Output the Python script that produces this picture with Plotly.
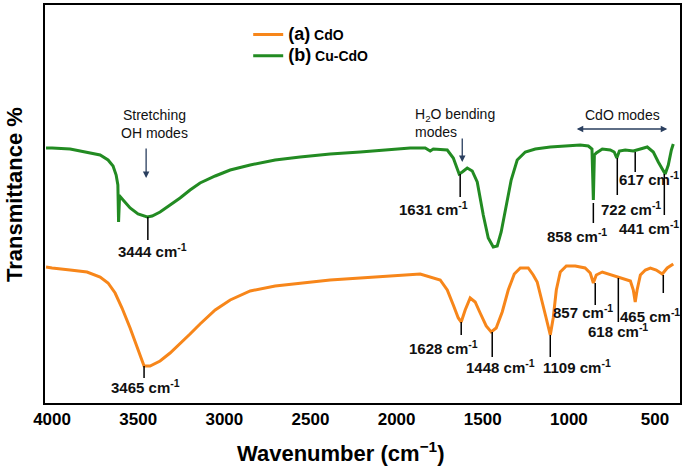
import plotly.graph_objects as go

# Cu-CdO (b) – wavenumber (cm-1) and transmittance (a.u.)
wn_cucdo = [4035, 4000, 3895, 3797, 3721, 3675, 3646, 3628, 3618, 3614, 3609, 3603, 3576, 3547,
            3501, 3448, 3419, 3373, 3315, 3257, 3199, 3141, 3053, 2966, 2850, 2705, 2560, 2386,
            2211, 2037, 1921, 1834, 1805, 1787, 1706, 1671, 1637, 1619, 1590, 1561, 1532, 1497,
            1468, 1439, 1416, 1393, 1364, 1335, 1300, 1253, 1195, 1108, 1021, 934, 887, 866,
            858, 852, 841, 806, 760, 737, 722, 707, 673, 626, 585, 545, 510, 481, 441, 423, 405, 394]
t_cucdo = [255, 255, 254, 251, 248, 243, 237, 228, 218, 181, 203, 206, 201, 195,
           189, 186, 187, 191, 198, 205, 213, 220, 227, 233, 238, 243, 246, 249,
           251, 253, 255, 255, 252, 254, 253, 245, 229, 231, 235, 232, 221, 188,
           165, 156, 157, 171, 198, 223, 243, 251, 254, 256, 257, 258, 257, 254,
           203, 248, 250, 254, 253, 251, 245, 252, 253, 252, 254, 256, 251, 241, 229, 238, 253, 259]

# CdO (a)
wn_cdo = [4035, 4000, 3895, 3797, 3721, 3675, 3634, 3594, 3547, 3506, 3466, 3431, 3373, 3315,
          3257, 3199, 3141, 3053, 2966, 2850, 2705, 2560, 2386, 2211, 2037, 1863, 1747, 1706,
          1671, 1642, 1625, 1602, 1573, 1544, 1515, 1480, 1451, 1422, 1387, 1352, 1317, 1282,
          1236, 1207, 1184, 1161, 1132, 1108, 1091, 1073, 1050, 1015, 963, 906, 876, 858,
          841, 806, 748, 690, 643, 626, 615, 604, 585, 556, 527, 493, 458, 429, 394]
t_cdo = [136, 135, 133, 131, 126, 120, 110, 95, 75, 55, 37, 37, 42, 50,
         59, 69, 79, 93, 103, 112, 117, 120, 123, 125, 127, 129, 123, 113,
         98, 85, 81, 93, 105, 101, 90, 77, 71, 75, 91, 113, 129, 135,
         135, 128, 121, 106, 85, 68, 85, 113, 131, 137, 137, 135, 130, 120,
         128, 131, 128, 125, 122, 113, 101, 113, 128, 133, 135, 133, 129, 135, 139]

x_ticks = [4000, 3500, 3000, 2500, 2000, 1500, 1000, 500]

# peak labels: (label, line x, line y0, line y1, text x, text y)
peaks = [
    ("3444", 3444, 186, 163, 3419, 153),
    ("1631", 1631, 229, 206, 1788, 195),
    ("858", 858, 200, 180, 951, 168),
    ("722", 719, 245, 208, 640, 195),
    ("617", 615, 251, 231, 535, 225),
    ("441", 446, 229, 188, 535, 176),
    ("3465", 3466, 37, 25, 3460, 17),
    ("1628", 1625, 81, 68, 1730, 56),
    ("1448", 1445, 71, 46, 1398, 37),
    ("1109", 1108, 68, 46, 951, 37),
    ("857", 847, 120, 98, 917, 92),
    ("618", 713, 125, 81, 713, 73),
    ("465", 452, 128, 110, 527, 88),
]

ORANGE = "#F7861A"
GREEN = "#228B22"
FONT = "Arial, Liberation Sans, sans-serif"

fig = go.Figure()
fig.add_trace(go.Scatter(x=wn_cdo, y=t_cdo, mode="lines", line=dict(color=ORANGE, width=3),
                         name="<b><span style='font-size:18px'>(a)</span> CdO</b>"))
fig.add_trace(go.Scatter(x=wn_cucdo, y=t_cucdo, mode="lines", line=dict(color=GREEN, width=3),
                         name="<b><span style='font-size:18px'>(b)</span> Cu-CdO</b>"))

for lab, lx, y0, y1, tx, ty in peaks:
    fig.add_shape(type="line", x0=lx, x1=lx, y0=y0, y1=y1, line=dict(color="black", width=1.5))
    fig.add_annotation(x=tx, y=ty, text=f"<b>{lab} cm<sup>-1</sup></b>", showarrow=False,
                       font=dict(size=15, color="#111"))

# mode labels and arrows
fig.add_annotation(x=3408, y=279, text="Stretching<br>OH modes", showarrow=False,
                   font=dict(size=14, color="#111"))
fig.add_annotation(x=3454, y=225, ax=3454, ay=256, axref="x", ayref="y", text="",
                   showarrow=True, arrowhead=2, arrowwidth=1.3, arrowsize=1)
fig.add_annotation(x=1904, y=280, text="H<sub>2</sub>O bending<br>modes", showarrow=False,
                   xanchor="left", align="left", font=dict(size=14, color="#111"))
fig.add_annotation(x=1619, y=241, ax=1619, ay=266, axref="x", ayref="y", text="",
                   showarrow=True, arrowhead=2, arrowwidth=1.3, arrowsize=1)
fig.add_annotation(x=690, y=288, text="CdO modes", showarrow=False, font=dict(size=14, color="#111"))
fig.add_annotation(x=429, y=274, ax=963, ay=274, axref="x", ayref="y", text="",
                   showarrow=True, arrowhead=2, startarrowhead=2, arrowside="end+start",
                   arrowwidth=1.3, arrowsize=1)

# axis titles
fig.add_annotation(x=0.465, y=-0.123, xref="paper", yref="paper", showarrow=False,
                   xanchor="center", yanchor="middle",
                   text="<b>Wavenumber (cm<sup>−1</sup>)</b>", font=dict(size=22))
fig.add_annotation(x=-0.047, y=0.523, xref="paper", yref="paper", showarrow=False, textangle=-90,
                   xanchor="center", yanchor="middle",
                   text="<b>Transmittance %</b>", font=dict(size=22))

fig.update_layout(
    width=685, height=471,
    margin=dict(l=45, r=5, t=5, b=68),
    plot_bgcolor="white", paper_bgcolor="white",
    font=dict(family=FONT, color="black"),
    legend=dict(x=0.32, y=0.965, xanchor="left", yanchor="top", bgcolor="rgba(0,0,0,0)",
                font=dict(size=14, family=FONT), itemwidth=30, tracegroupgap=0),
    showlegend=True,
)
fig.update_xaxes(range=[4041, 355], tickvals=x_ticks,
                 ticktext=[f"<b>{v}</b>" for v in x_ticks],
                 tickfont=dict(size=17), showgrid=False, zeroline=False, ticks="",
                 showline=True, linecolor="black", linewidth=2, mirror=True, automargin=False)
fig.update_yaxes(range=[0, 398], showticklabels=False, showgrid=False, zeroline=False, ticks="",
                 showline=True, linecolor="black", linewidth=2, mirror=True, automargin=False)

fig.write_html("out.html", config={"displayModeBar": False},
               post_script="document.body.style.margin='0';")
